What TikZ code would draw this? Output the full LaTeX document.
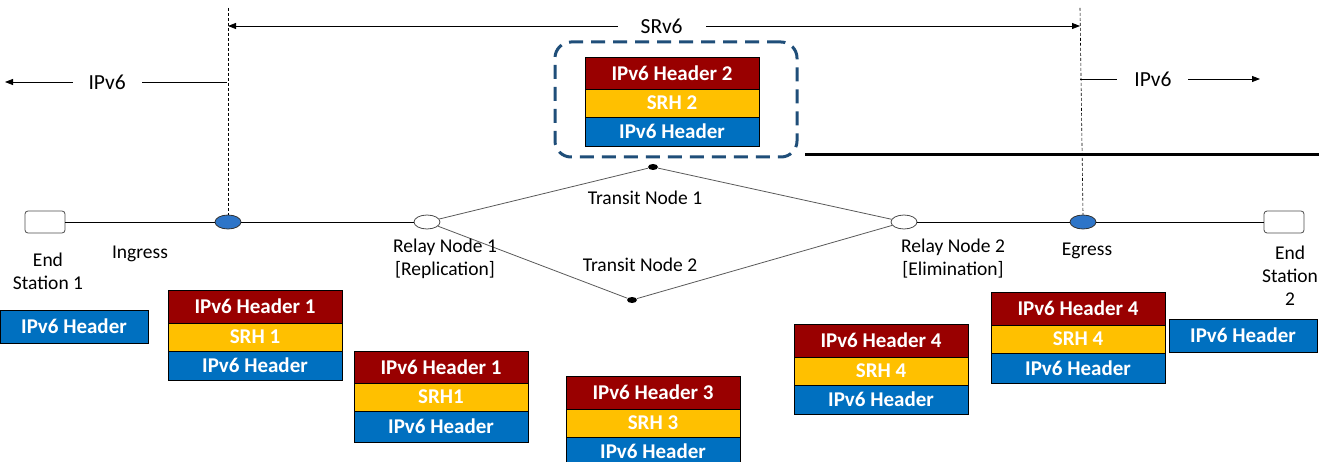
\documentclass[tikz,border=0pt]{standalone}
\usepackage{fontspec}
\setmainfont{Carlito}
\usetikzlibrary{positioning,arrows.meta,shapes.geometric}
\definecolor{hdrred}{RGB}{153,0,0}
\definecolor{hdryellow}{RGB}{255,192,0}
\definecolor{hdrblue}{RGB}{0,112,192}
\definecolor{nodeblue}{RGB}{46,117,200}
\definecolor{boxnavy}{RGB}{31,78,121}

\tikzset{
  hdr/.style={draw=black,line width=0.8pt,text=white,inner sep=0pt,outer sep=0pt,
              font=\fontsize{21}{23}\selectfont\bfseries,minimum width=174pt},
  redrow/.style={hdr,fill=hdrred,minimum height=33pt},
  yelrow/.style={hdr,fill=hdryellow,minimum height=28pt},
  bluerow/.style={hdr,fill=hdrblue,minimum height=29pt},
  lbl/.style={font=\fontsize{19.5}{23}\selectfont,align=center},
  biglbl/.style={font=\fontsize{21.5}{24}\selectfont,fill=white,inner ysep=2pt},
  station/.style={draw=black!70,rounded corners=3pt,minimum width=40pt,minimum height=22pt,line width=0.8pt},
  relay/.style={ellipse,draw=black!70,fill=white,minimum width=26pt,minimum height=14pt,inner sep=0pt},
  edgenode/.style={ellipse,draw=black!80,fill=nodeblue,minimum width=26pt,minimum height=14pt,inner sep=0pt},
  transit/.style={ellipse,fill=black,minimum width=10pt,minimum height=6pt,inner sep=0pt},
  tip/.style={-{Triangle[length=8pt,width=6pt]}},
}

\begin{document}
\begin{tikzpicture}[x=1pt,y=-1pt,line width=0.8pt]
  \useasboundingbox (0,0) rectangle (1319,462);

  % network nodes
  \node[station] (es1) at (45,222) {};
  \node[edgenode] (ingress) at (228,222) {};
  \node[relay] (relay1) at (427,222) {};
  \node[transit] (transit1) at (653,167) {};
  \node[transit] (transit2) at (632,300) {};
  \node[relay] (relay2) at (904,222) {};
  \node[edgenode] (egress) at (1083,222) {};
  \node[station] (es2) at (1284,222) {};

  \draw (es1) -- (ingress) -- (relay1);
  \draw (relay2) -- (egress) -- (es2);
  \draw[black!65] (relay1) -- (transit1) -- (relay2);
  \draw[black!65] (relay1) -- (transit2) -- (relay2);

  % node labels
  \node[lbl] (es1lbl) at (48,271) {End\\Station 1};
  \node[lbl] (inglbl) at (140,254) {Ingress};
  \node[lbl] (r1lbl) at (445,259) {Relay Node 1\\{[Replication]}};
  \node[lbl] (t1lbl) at (645,198) {Transit Node 1};
  \node[lbl] (t2lbl) at (640,265) {Transit Node 2};
  \node[lbl] (r2lbl) at (953,259) {Relay Node 2\\{[Elimination]}};
  \node[lbl] (eglbl) at (1087,251) {Egress};
  \node[lbl] (es2lbl) at (1290,276) {End\\Station\\2};

  % domain boundaries
  \coordinate (ingTop) at (228,8);
  \coordinate (egTop) at (1080,8);
  \draw[dashed,line width=0.6pt,dash pattern=on 3pt off 2pt] (ingTop) -- (ingress.north);
  \draw[dashed,line width=0.6pt,dash pattern=on 3pt off 2pt] (egTop) -- (egress.north);

  \coordinate (srL) at (228,26);
  \coordinate (srR) at (1080,26);
  \draw[{Triangle[length=8pt,width=6pt]}-{Triangle[length=8pt,width=6pt]}]
    (srL) -- node[biglbl,inner xsep=23pt,pos=0.509] (srlbl) {SRv6} (srR);

  \coordinate (ipLa) at (227,82);
  \coordinate (ipLb) at (5,82);
  \draw[tip] (ipLa) -- node[biglbl,inner xsep=16pt,pos=0.54] (ipllbl) {IPv6} (ipLb);

  \coordinate (ipRa) at (1080,79);
  \coordinate (ipRb) at (1260,79);
  \draw[tip] (ipRa) -- node[biglbl,inner xsep=17pt,pos=0.405] (iprlbl) {IPv6} (ipRb);

  \coordinate (sepL) at (805,155);
  \coordinate (sepR) at (1319,155);
  \draw[line width=3pt] (sepL) -- (sepR);

  % highlighted transit packet
  \node[draw=boxnavy,line width=3pt,dash pattern=on 14pt off 8pt,rounded corners=16pt,
        minimum width=242pt,minimum height=115pt] (hlbox) at (676,99.5) {};
  \node[redrow,anchor=north west,minimum height=32pt] (p2a) at (585,57) {IPv6 Header 2};
  \node[yelrow,below=0pt of p2a] (p2b) {SRH 2};
  \node[bluerow,below=0pt of p2b] (p2c) {IPv6 Header};

  % packets along the path
  \node[bluerow,anchor=north west,minimum width=148pt,minimum height=33pt] (p0) at (0,310) {IPv6 Header};

  \node[redrow,anchor=north west] (p1a) at (168,290) {IPv6 Header 1};
  \node[yelrow,below=0pt of p1a] (p1b) {SRH 1};
  \node[bluerow,below=0pt of p1b] (p1c) {IPv6 Header};

  \node[redrow,anchor=north west,minimum height=32pt] (q1a) at (354,351) {IPv6 Header 1};
  \node[yelrow,below=0pt of q1a] (q1b) {SRH1};
  \node[bluerow,below=0pt of q1b,minimum height=31pt] (q1c) {IPv6 Header};

  \node[redrow,anchor=north west] (p3a) at (566,376) {IPv6 Header 3};
  \node[yelrow,below=0pt of p3a] (p3b) {SRH 3};
  \node[bluerow,below=0pt of p3b] (p3c) {IPv6 Header};

  \node[redrow,anchor=north west] (p4a) at (794,324) {IPv6 Header 4};
  \node[yelrow,below=0pt of p4a] (p4b) {SRH 4};
  \node[bluerow,below=0pt of p4b] (p4c) {IPv6 Header};

  \node[redrow,anchor=north west] (q4a) at (991,292) {IPv6 Header 4};
  \node[yelrow,below=0pt of q4a] (q4b) {SRH 4};
  \node[bluerow,below=0pt of q4b,minimum height=30pt] (q4c) {IPv6 Header};

  \node[bluerow,anchor=north west,minimum width=148pt,minimum height=33pt] (p5) at (1169,319) {IPv6 Header};
\end{tikzpicture}
\end{document}
